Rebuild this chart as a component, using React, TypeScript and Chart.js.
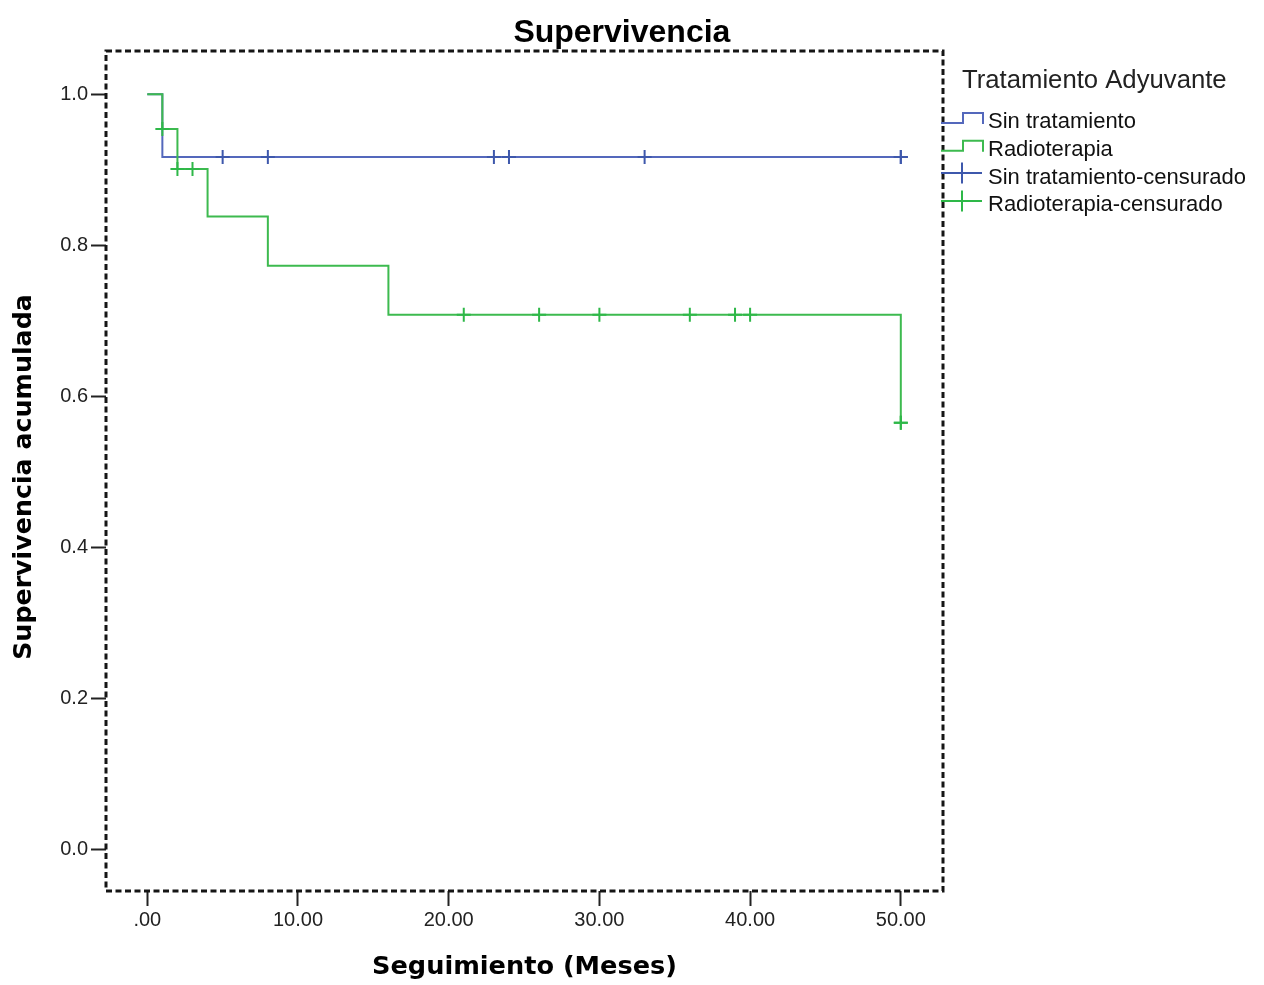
import React, { useEffect, useRef } from 'react';
import { Chart, registerables } from 'chart.js';

Chart.register(...registerables);

const CHART_TITLE = 'Supervivencia';
const X_TITLE = 'Seguimiento (Meses)';
const Y_TITLE = 'Supervivencia acumulada';
const LEGEND_TITLE = 'Tratamiento Adyuvante';
const SERIES_LABELS = ['Sin tratamiento', 'Radioterapia', 'Sin tratamiento-censurado', 'Radioterapia-censurado'];

// Kaplan-Meier step points (time of drop, survival after drop)
const SIN_TIMES = [0, 1, 50];
const SIN_SURV = [1.0, 0.917, 0.917];
const SIN_CENSORED = [5, 8, 23, 24, 33, 50, 50];

const RADIO_TIMES = [0, 1, 2, 4, 8, 16, 50];
const RADIO_SURV = [1.0, 0.954, 0.901, 0.838, 0.773, 0.708, 0.565];
const RADIO_CENSORED = [1, 2, 3, 21, 26, 30, 36, 39, 40, 50, 50];

const X_TICKS = [0, 10, 20, 30, 40, 50];
const X_TICK_LABELS = ['.00', '10.00', '20.00', '30.00', '40.00', '50.00'];
const Y_TICKS = [0, 0.2, 0.4, 0.6, 0.8, 1.0];
const Y_TICK_LABELS = ['0.0', '0.2', '0.4', '0.6', '0.8', '1.0'];

const BLUE_LINE = '#5468bc';
const BLUE_MARK = '#3e58ac';
const GREEN_LINE = '#3dba4f';
const GREEN_MARK = '#2eb848';
const SERIES_COLORS = [BLUE_LINE, GREEN_LINE, BLUE_MARK, GREEN_MARK];

function survAt(times: number[], surv: number[], t: number): number {
  let v = surv[0];
  for (let i = 0; i < times.length; i++) {
    if (times[i] <= t) v = surv[i];
  }
  return v;
}

const SANS = '"Liberation Sans", Arial, sans-serif';
const BOLD_TITLE_FONT = '"DejaVu Sans", Verdana, sans-serif';

const decorPlugin = {
  id: 'decor',
  afterDraw(chart: any) {
    const { ctx, chartArea: a } = chart;
    ctx.save();
    // dashed frame
    ctx.strokeStyle = '#151515';
    ctx.lineWidth = 3;
    ctx.setLineDash([6, 3.5]);
    ctx.strokeRect(a.left, a.top, a.right - a.left, a.bottom - a.top);
    ctx.setLineDash([]);

    // chart title
    ctx.fillStyle = '#000';
    ctx.font = `bold 32px ${SANS}`;
    ctx.textAlign = 'center';
    ctx.textBaseline = 'alphabetic';
    ctx.fillText(CHART_TITLE, chart.width * 0.492, a.top - 9);

    // y axis title
    ctx.save();
    ctx.translate(24, (a.top + a.bottom) / 2 + 6);
    ctx.rotate(-Math.PI / 2);
    ctx.font = `bold 25.3px ${BOLD_TITLE_FONT}`;
    ctx.textAlign = 'center';
    ctx.textBaseline = 'middle';
    ctx.fillStyle = '#000';
    ctx.fillText(Y_TITLE, 0, 0);
    ctx.restore();

    // legend
    const x0 = a.right - 2;
    ctx.textAlign = 'left';
    ctx.textBaseline = 'alphabetic';
    ctx.fillStyle = '#222';
    ctx.font = `25.7px ${SANS}`;
    ctx.fillText(LEGEND_TITLE, a.right + 19, a.top + 37);
    ctx.font = `22px ${SANS}`;
    ctx.lineWidth = 2;
    SERIES_LABELS.forEach((label, i) => {
      const b = a.top + 77 + i * 27.8;
      ctx.strokeStyle = SERIES_COLORS[i];
      ctx.beginPath();
      if (i < 2) {
        ctx.moveTo(x0, b - 5);
        ctx.lineTo(x0 + 22, b - 5);
        ctx.lineTo(x0 + 22, b - 15);
        ctx.lineTo(x0 + 42, b - 15);
        ctx.lineTo(x0 + 42, b - 4);
      } else {
        ctx.moveTo(x0, b - 10.5);
        ctx.lineTo(x0 + 41, b - 10.5);
        ctx.moveTo(x0 + 21, b - 21);
        ctx.lineTo(x0 + 21, b);
      }
      ctx.stroke();
      ctx.fillStyle = '#111';
      ctx.fillText(label, a.right + 45, b);
    });
    ctx.restore();
  },
};

export default function App() {
  const ref = useRef<HTMLCanvasElement | null>(null);

  useEffect(() => {
    document.body.style.margin = '0';
    document.body.style.overflow = 'hidden';
    const canvas = ref.current;
    if (!canvas) return;

    const sinLine = SIN_TIMES.map((t, i) => ({ x: t, y: SIN_SURV[i] }));
    const radioLine = RADIO_TIMES.map((t, i) => ({ x: t, y: RADIO_SURV[i] }));
    const sinCens = SIN_CENSORED.map((t) => ({ x: t, y: survAt(SIN_TIMES, SIN_SURV, t) }));
    const radioCens = RADIO_CENSORED.map((t) => ({ x: t, y: survAt(RADIO_TIMES, RADIO_SURV, t) }));

    const tickFont = { family: SANS, size: 20 };

    const chart = new Chart(canvas, {
      type: 'line',
      data: {
        datasets: [
          {
            label: SERIES_LABELS[0],
            data: sinLine,
            stepped: 'before',
            borderColor: BLUE_LINE,
            borderWidth: 2,
            pointRadius: 0,
            fill: false,
            order: 3,
          },
          {
            label: SERIES_LABELS[1],
            data: radioLine,
            stepped: 'before',
            borderColor: GREEN_LINE,
            borderWidth: 2,
            pointRadius: 0,
            fill: false,
            order: 2,
          },
          {
            label: SERIES_LABELS[2],
            data: sinCens,
            showLine: false,
            pointStyle: 'cross',
            pointRadius: 7,
            pointBorderWidth: 2,
            pointBorderColor: BLUE_MARK,
            borderColor: BLUE_MARK,
            order: 1,
          },
          {
            label: SERIES_LABELS[3],
            data: radioCens,
            showLine: false,
            pointStyle: 'cross',
            pointRadius: 7,
            pointBorderWidth: 2,
            pointBorderColor: GREEN_MARK,
            borderColor: GREEN_MARK,
            order: 0,
          },
        ],
      },
      options: {
        responsive: false,
        animation: false,
        devicePixelRatio: 1,
        layout: { padding: { top: 51, right: 321, bottom: 0, left: 0 } },
        plugins: {
          legend: { display: false },
          title: { display: false },
          tooltip: { enabled: false },
        },
        scales: {
          x: {
            type: 'linear',
            min: -2.74,
            max: 52.8,
            afterBuildTicks: (s: any) => {
              s.ticks = X_TICKS.map((v) => ({ value: v }));
            },
            afterFit: (s: any) => {
              s.height = 94;
            },
            ticks: {
              callback: (_v: any, i: number) => X_TICK_LABELS[i],
              font: tickFont,
              color: '#222',
              padding: 2,
              maxRotation: 0,
              autoSkip: false,
            },
            grid: {
              display: true,
              drawOnChartArea: false,
              drawTicks: true,
              tickLength: 15,
              tickWidth: 2,
              tickColor: '#222',
            },
            border: { display: false },
            title: {
              display: true,
              text: X_TITLE,
              color: '#000',
              font: { family: BOLD_TITLE_FONT, size: 25.6, weight: 'bold' },
              padding: { top: 0, bottom: 2 },
            },
          },
          y: {
            type: 'linear',
            min: -0.055,
            max: 1.0573,
            afterBuildTicks: (s: any) => {
              s.ticks = Y_TICKS.map((v) => ({ value: v }));
            },
            afterFit: (s: any) => {
              s.width = 106;
            },
            ticks: {
              callback: (_v: any, i: number) => Y_TICK_LABELS[i],
              font: tickFont,
              color: '#222',
              padding: 3,
              autoSkip: false,
            },
            grid: {
              display: true,
              drawOnChartArea: false,
              drawTicks: true,
              tickLength: 15,
              tickWidth: 2,
              tickColor: '#222',
            },
            border: { display: false },
            title: { display: false },
          },
        },
      },
      plugins: [decorPlugin],
    } as any);

    return () => chart.destroy();
  }, []);

  return (
    <div style={{ width: 1264, height: 985, position: 'relative' }}>
      <canvas ref={ref} width={1264} height={985} style={{ display: 'block' }} />
    </div>
  );
}
